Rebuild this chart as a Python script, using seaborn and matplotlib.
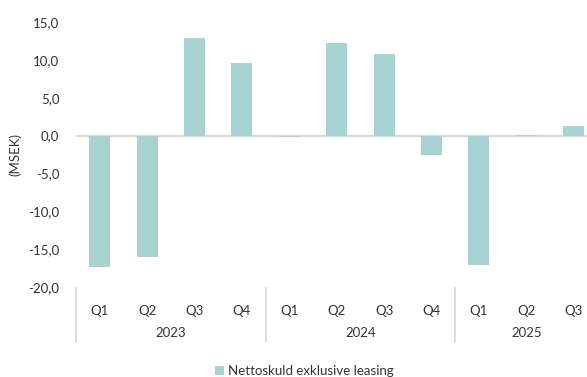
import matplotlib
matplotlib.use("Agg")
import matplotlib.pyplot as plt
import matplotlib.transforms as mtransforms
from matplotlib.patches import Patch
import seaborn as sns
import pandas as pd

years = ["2023", "2024", "2025"]
quarters = ["Q1", "Q2", "Q3", "Q4", "Q1", "Q2", "Q3", "Q4", "Q1", "Q2", "Q3"]
period_year = ["2023"] * 4 + ["2024"] * 4 + ["2025"] * 3
values = [-17.3, -16.0, 12.9, 9.6, -0.2, 12.2, 10.8, -2.5, -17.1, 0.1, 1.2]
yticks = [-20, -15, -10, -5, 0, 5, 10, 15]
series_name = "Nettoskuld exklusive leasing"

BAR = "#a7d3d3"
TXT = "#333333"
GRID = "#d9d9d9"

sns.set_theme(style="white")
plt.rcParams["font.family"] = ["Lato", "DejaVu Sans"]

df = pd.DataFrame({
    "period": [f"{y} {q}" for y, q in zip(period_year, quarters)],
    "value": values,
})

fig = plt.figure(figsize=(5.87, 3.77), dpi=100)
ax = fig.add_axes([76 / 587, 1 - 287 / 377, 1 - 76 / 587, (287 - 22) / 377])

sns.barplot(data=df, x="period", y="value", order=list(df["period"]),
            color=BAR, saturation=1, width=0.44, linewidth=0, ax=ax, zorder=2)

ax.axhline(0, color=GRID, lw=1.6, zorder=1)
ax.set_xlim(-0.5, 10.28)
ax.set_ylim(-20, 15)
ax.set_yticks(yticks)
ax.set_yticklabels([f"{v:.1f}".replace(".", ",") for v in yticks], color=TXT, fontsize=9.5)
ax.tick_params(axis="y", length=0, pad=12)
ax.set_xticks(range(len(quarters)))
ax.set_xticklabels(quarters, color=TXT, fontsize=9.5)
ax.tick_params(axis="x", length=0, pad=13)
ax.set_xlabel("")
ax.set_ylabel("(MSEK)", color=TXT, fontsize=9.5, labelpad=5)
for s in ax.spines.values():
    s.set_visible(False)

trans = mtransforms.blended_transform_factory(ax.transData, ax.transAxes)
ah = (287 - 22)
for xs in [-0.5, 3.5, 7.5]:
    ax.plot([xs, xs], [-1 / ah, -55 / ah], color=GRID, lw=1.3, transform=trans, clip_on=False)
for y, xc in zip(years, [1.5, 5.5, 9.0]):
    ax.text(xc, -46 / ah, y, transform=trans, ha="center", va="center", color=TXT, fontsize=9.5)

fig.legend(handles=[Patch(facecolor=BAR, edgecolor="none", label=series_name)],
           loc="center", bbox_to_anchor=(304 / 587, 1 - 371 / 377), frameon=False,
           handlelength=0.75, handleheight=0.75, handletextpad=0.25, fontsize=9.5,
           labelcolor=TXT)

fig.savefig("out.png", dpi=100)
